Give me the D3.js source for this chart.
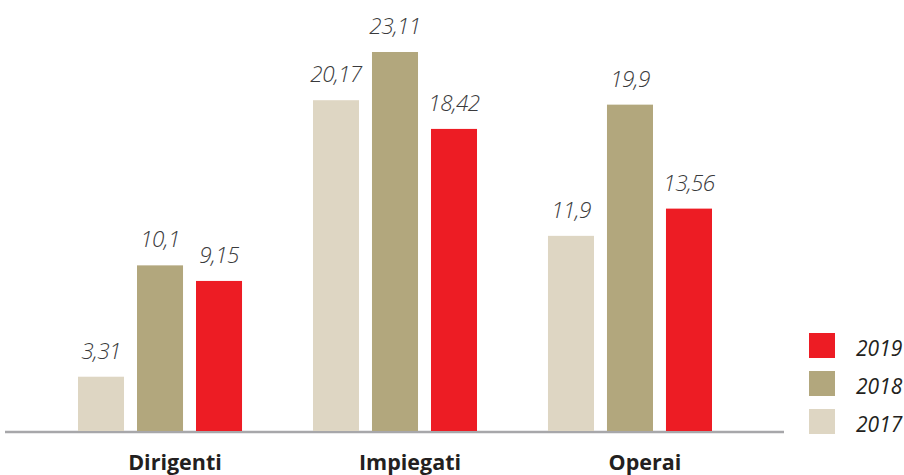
<!DOCTYPE html>
<html>
<head>
<meta charset="utf-8">
<script src="https://d3js.org/d3.v7.min.js"></script>
<style>
  body { margin: 0; background: #fff; }
  svg { display: block; }
  .val { font-family: "Open Sans", sans-serif; font-style: italic; font-weight: 300; fill: #3a3a3c; letter-spacing: -0.6px; }
  .cat { font-family: "Open Sans", sans-serif; font-weight: 700; fill: #231f20; }
  .leg { font-family: "Open Sans", sans-serif; font-style: italic; font-weight: 400; fill: #231f20; }
</style>
</head>
<body>
<svg id="chart" width="904" height="475"></svg>
<script>
// categories and series
const categories = ['Dirigenti', 'Impiegati', 'Operai'];
const years = ['2017', '2018', '2019'];
const v2017 = [3.31, 20.17, 11.9];
const v2018 = [10.1, 23.11, 19.9];
const v2019 = [9.15, 18.42, 13.56];
const labels2017 = ['3,31', '20,17', '11,9'];
const labels2018 = ['10,1', '23,11', '19,9'];
const labels2019 = ['9,15', '18,42', '13,56'];
const colors = { '2017': '#ded6c3', '2018': '#b2a77d', '2019': '#ed1c24' };

const series = { '2017': v2017, '2018': v2018, '2019': v2019 };
const seriesLabels = { '2017': labels2017, '2018': labels2018, '2019': labels2019 };

const svg = d3.select('#chart');
const baseline = 431;

const x0 = d3.scaleBand()
  .domain(categories)
  .range([78, 712])
  .paddingInner(0.302);

const x1 = d3.scaleBand()
  .domain(years)
  .range([0, x0.bandwidth()])
  .paddingInner(0.22);

const y = d3.scaleLinear()
  .domain([0, 23.11])
  .range([baseline, 52]);

// axis line
svg.append('line')
  .attr('x1', 5).attr('x2', 784)
  .attr('y1', 432).attr('y2', 432)
  .attr('stroke', '#a7a7aa')
  .attr('stroke-width', 2.5);

const rows = [];
categories.forEach((c, i) => {
  years.forEach(yr => {
    rows.push({ cat: c, year: yr, value: series[yr][i], label: seriesLabels[yr][i] });
  });
});

const g = svg.append('g');

g.selectAll('rect.bar')
  .data(rows)
  .enter()
  .append('rect')
  .attr('class', 'bar')
  .attr('x', d => x0(d.cat) + x1(d.year))
  .attr('y', d => y(d.value))
  .attr('width', x1.bandwidth())
  .attr('height', d => baseline - y(d.value))
  .attr('fill', d => colors[d.year]);

g.selectAll('text.val')
  .data(rows)
  .enter()
  .append('text')
  .attr('class', 'val')
  .attr('x', d => x0(d.cat) + x1(d.year) + x1.bandwidth() / 2)
  .attr('y', d => y(d.value) - 18)
  .attr('text-anchor', 'middle')
  .attr('font-size', 22.5)
  .text(d => d.label);

// category labels
svg.selectAll('text.cat')
  .data(categories)
  .enter()
  .append('text')
  .attr('class', 'cat')
  .attr('x', d => x0(d) + x0.bandwidth() / 2 + 15)
  .attr('y', 470)
  .attr('text-anchor', 'middle')
  .attr('font-size', 21.5)
  .text(d => d);

// legend (2019 on top)
const legYears = years.slice().reverse();
const leg = svg.append('g').attr('transform', 'translate(809,333)');
leg.selectAll('rect')
  .data(legYears)
  .enter()
  .append('rect')
  .attr('x', 0)
  .attr('y', (d, i) => i * 38)
  .attr('width', 26)
  .attr('height', 25)
  .attr('fill', d => colors[d]);
leg.selectAll('text')
  .data(legYears)
  .enter()
  .append('text')
  .attr('class', 'leg')
  .attr('x', 47)
  .attr('y', (d, i) => i * 38 + 23)
  .attr('font-size', 21)
  .text(d => d);
</script>
</body>
</html>
